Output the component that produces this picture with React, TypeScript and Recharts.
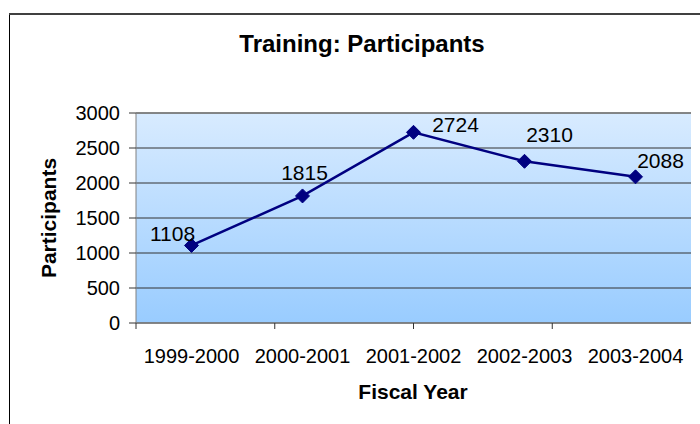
import React from "react";
import {
  ComposedChart,
  Line,
  XAxis,
  YAxis,
  CartesianGrid,
  ReferenceLine,
} from "recharts";

const fiscalYears = ["1999-2000", "2000-2001", "2001-2002", "2002-2003", "2003-2004"];
const participants = [1108, 1815, 2724, 2310, 2088];
const yTicks = [0, 500, 1000, 1500, 2000, 2500, 3000];
const boundaryTicks = [0, 1, 2, 3, 4, 5];

const data = fiscalYears.map((year, i) => ({ year, participants: participants[i] }));

const FONT = "'Liberation Sans', Arial, sans-serif";

// label placement relative to each point (dx, dy to baseline centre)
const labelOffsets: [number, number][] = [
  [-19, -4],
  [2, -16],
  [42, 0],
  [25, -19],
  [25, -9],
];

const Diamond = (props: any) => {
  const { cx, cy } = props;
  if (cx == null || cy == null) return null;
  const r = 7;
  return (
    <polygon
      points={`${cx},${cy - r} ${cx + r},${cy} ${cx},${cy + r} ${cx - r},${cy}`}
      fill="#000080"
      stroke="#000080"
      strokeWidth={1}
    />
  );
};

const DataLabel = (props: any) => {
  const { x, y, value, index } = props;
  const [dx, dy] = labelOffsets[index] || [0, -10];
  return (
    <text
      x={x + dx}
      y={y + dy}
      textAnchor="middle"
      fontFamily={FONT}
      fontSize={21}
      fill="#000"
    >
      {value}
    </text>
  );
};

const EmptyTick = () => <g />;

export default function App() {
  return (
    <div
      style={{
        position: "absolute",
        left: 0,
        top: 0,
        width: 700,
        height: 424,
        overflow: "hidden",
        background: "#fff",
      }}
    >
      <svg
        width={700}
        height={424}
        style={{ position: "absolute", left: 0, top: 0 }}
      >
        <line x1={9.5} y1={13} x2={9.5} y2={424} stroke="#000" strokeWidth={1} />
        <line x1={9} y1={14} x2={700} y2={14} stroke="#404040" strokeWidth={2} />
        <text
          x={362}
          y={52}
          textAnchor="middle"
          fontFamily={FONT}
          fontWeight="bold"
          fontSize={24}
          fill="#000"
        >
          Training: Participants
        </text>
        <text
          x={413}
          y={399}
          textAnchor="middle"
          fontFamily={FONT}
          fontWeight="bold"
          fontSize={21}
          fill="#000"
        >
          Fiscal Year
        </text>
        <text
          x={56}
          y={218}
          transform="rotate(-90, 56, 218)"
          textAnchor="middle"
          fontFamily={FONT}
          fontWeight="bold"
          fontSize={21}
          fill="#000"
        >
          Participants
        </text>
      </svg>
      <div style={{ position: "absolute", left: 0, top: 0 }}>
        <ComposedChart
          width={700}
          height={424}
          data={data}
          margin={{ top: 113, right: 9, bottom: 60, left: 56 }}
        >
          <defs>
            <linearGradient id="plotBg" x1="0" y1="0" x2="0" y2="1">
              <stop offset="0%" stopColor="#d8ebff" />
              <stop offset="100%" stopColor="#99ccff" />
            </linearGradient>
          </defs>
          <CartesianGrid
            xAxisId="b_cat"
            vertical={false}
            stroke="#333"
            strokeWidth={1}
            fill="url(#plotBg)"
            fillOpacity={1}
          />
          <XAxis
            xAxisId="b_cat"
            dataKey="year"
            type="category"
            scale="band"
            height={40}
            tickSize={0}
            tickLine={false}
            axisLine={false}
            tickMargin={25}
            interval={0}
            tick={{ fontFamily: FONT, fontSize: 20, fill: "#000" }}
          />
          <XAxis
            xAxisId="a_bnd"
            type="number"
            domain={[0, 5]}
            ticks={boundaryTicks}
            allowDataOverflow
            tick={<EmptyTick />}
            tickSize={6}
            height={1}
            axisLine={{ stroke: "#808080", strokeWidth: 1.5 }}
            tickLine={{ stroke: "#333", strokeWidth: 1 }}
          />
          <YAxis
            domain={[0, 3000]}
            ticks={yTicks}
            width={80}
            tickSize={7}
            tickMargin={9}
            interval={0}
            axisLine={{ stroke: "#808080", strokeWidth: 1 }}
            tickLine={{ stroke: "#333", strokeWidth: 1 }}
            tick={{ fontFamily: FONT, fontSize: 20, fill: "#000" }}
          />
          <ReferenceLine xAxisId="b_cat" y={3000} stroke="#808080" strokeWidth={1.5} />
          <ReferenceLine xAxisId="a_bnd" x={5} stroke="#808080" strokeWidth={1.5} />
          <Line
            xAxisId="b_cat"
            type="linear"
            dataKey="participants"
            stroke="#000080"
            strokeWidth={2.5}
            dot={<Diamond />}
            activeDot={false}
            label={<DataLabel />}
            isAnimationActive={false}
          />
        </ComposedChart>
      </div>
    </div>
  );
}
